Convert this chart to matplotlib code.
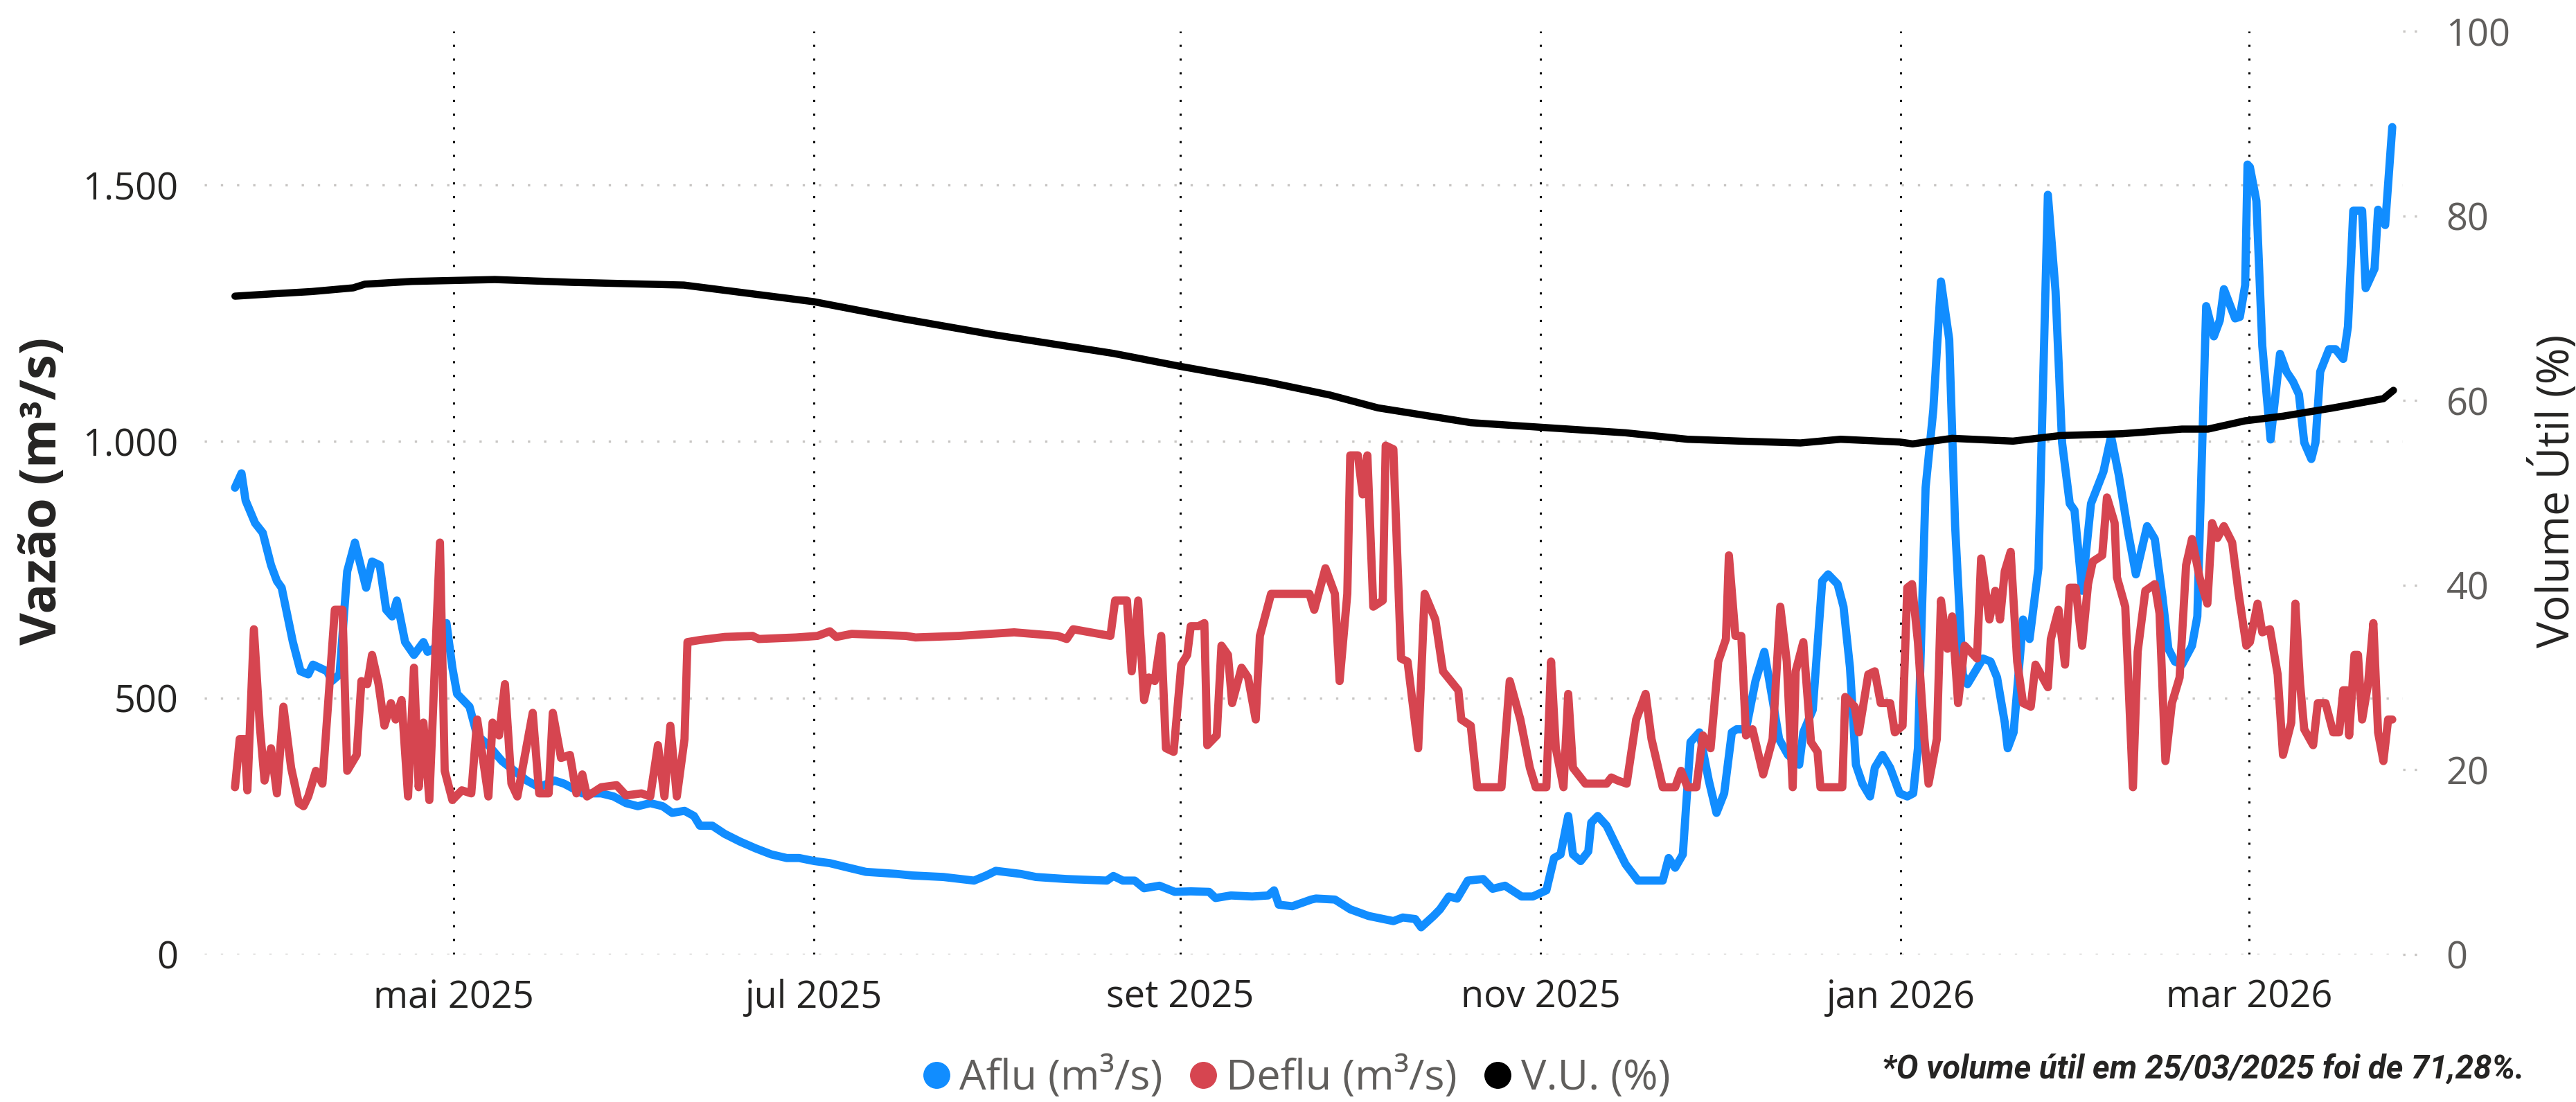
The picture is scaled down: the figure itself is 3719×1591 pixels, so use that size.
import matplotlib.pyplot as plt
import pandas as pd
from matplotlib.lines import Line2D

plt.rcParams["font.family"] = ["Open Sans", "DejaVu Sans"]

START = pd.Timestamp("2025-03-25")

# (days after 25/03/2025, value)
AFLU = [
    (0, 910), (1.1, 938), (1.8, 885), (3.4, 841), (4.7, 822), (6.1, 759), (7.1, 728), (7.9, 715),
    (9.8, 609), (11.1, 552), (12.4, 546), (13.2, 565), (14.5, 558), (15.6, 552), (16.4, 533),
    (17.7, 546), (19.0, 747), (20.3, 803), (22.2, 715), (23.2, 766), (24.5, 759), (25.6, 672),
    (26.6, 659), (27.4, 690), (28.8, 609), (30.3, 584), (31.9, 609), (32.6, 590), (33.7, 596),
    (35.8, 646), (36.8, 559), (37.6, 508), (39.7, 483), (41, 427), (42.9, 408), (45.2, 377),
    (47.3, 358), (49.4, 339), (51.5, 326), (54.1, 339), (55.7, 333), (58.8, 314), (62, 314),
    (64.1, 308), (66.2, 295), (68.2, 289), (70.3, 295), (72.4, 289), (74, 276), (76.1, 280),
    (77.7, 270), (78.7, 251), (80.8, 251), (82.9, 235), (85.5, 220), (88.1, 207), (90.8, 195),
    (93.4, 188), (95.5, 188), (98.1, 182), (100.7, 178), (103.9, 169), (106.8, 161), (112, 157),
    (114.6, 154), (119.9, 151), (125.1, 144), (127.2, 154), (128.8, 163), (133, 157), (135.6, 151),
    (140.8, 147), (147.6, 144), (148.7, 153), (150.3, 144), (152.3, 144), (153.9, 129), (156.5, 134),
    (159.1, 122), (161.8, 123), (164.9, 122), (166, 110), (168.6, 115), (172.2, 113), (174.9, 115),
    (175.9, 125), (176.7, 97), (179, 94), (182.2, 107), (183, 109), (186.2, 107), (188.8, 88),
    (191.9, 75), (196.1, 65), (197.7, 72), (199.8, 69), (200.8, 53), (202.9, 75), (204, 88),
    (205.5, 113), (206.9, 109), (208.7, 144), (211.3, 147), (212.9, 128), (215, 134), (217.8, 113),
    (219.7, 113), (222, 125), (223.3, 188), (224.4, 195), (225.7, 270), (226.5, 195), (227.8, 182),
    (229.1, 201), (229.6, 257), (230.7, 270), (232.2, 251), (233.8, 213), (235.4, 176), (237.5, 144),
    (239.6, 144), (241.7, 144), (242.7, 188), (243.8, 169), (245.1, 195), (246.4, 414), (247.9, 433),
    (249.5, 339), (250.8, 276), (252.1, 314), (253.4, 433), (254.2, 439), (255.8, 439), (257.4, 533),
    (258.9, 590), (260.3, 496), (261.4, 420), (262.9, 389), (264.8, 370), (265.5, 433), (267.1, 477),
    (268.7, 728), (269.7, 741), (271.3, 722), (272.3, 678), (273.4, 559), (274.4, 370), (275.5, 333),
    (276.8, 308), (277.6, 364), (278.9, 389), (280.2, 364), (281.8, 314), (283.1, 308), (284.1, 314),
    (284.9, 402), (286.2, 910), (287.5, 1061), (288.8, 1312), (290.2, 1199), (291.2, 835),
    (292.5, 546), (293.3, 527), (295.9, 577), (297.2, 571), (298.3, 540), (299.6, 452), (300.1, 402),
    (301.1, 433), (302.7, 653), (303.8, 615), (305.3, 753), (306.9, 1481), (308.2, 1293),
    (309.3, 998), (310.6, 879), (311.4, 866), (312.7, 709), (314.2, 879), (316.3, 941), (317.6, 1010),
    (318.9, 935), (320.5, 822), (321.8, 741), (323.7, 835), (325, 810), (326.3, 697), (327.3, 596),
    (328.4, 571), (329.6, 565), (331.3, 602), (332.2, 659), (333.7, 1264), (335, 1205), (336, 1236),
    (336.7, 1297), (338.6, 1240), (339.4, 1243), (340.3, 1305), (340.7, 1540), (341.1, 1535),
    (342.2, 1469), (343.2, 1186), (344.6, 1004), (346.2, 1171), (347.3, 1136), (348.4, 1117),
    (349.4, 1092), (350.3, 998), (351.5, 966), (352.2, 998), (353, 1136), (354.5, 1180),
    (355.6, 1180), (356.9, 1161), (357.7, 1224), (358.6, 1450), (360.1, 1450), (360.7, 1299),
    (362.2, 1337), (362.8, 1452), (364, 1422), (365.2, 1613),
]

DEFLU = [
    (0, 326), (0.8, 420), (1.6, 420), (2.1, 320), (3.2, 634), (4.2, 446), (5, 339), (6.1, 402),
    (7.1, 314), (8.2, 483), (9.5, 364), (10.8, 295), (11.6, 289), (12.4, 308), (13.7, 358),
    (14.8, 333), (16.9, 672), (18.2, 672), (19, 358), (20.6, 389), (21.4, 533), (22.4, 527),
    (23.2, 584), (24.3, 527), (25.3, 446), (26.4, 490), (27.2, 458), (28.2, 496), (29.3, 308),
    (30.3, 559), (31.1, 326), (31.9, 452), (32.9, 301), (34.7, 803), (35.5, 358), (36.8, 301),
    (38.4, 320), (40, 314), (41, 458), (42.9, 308), (43.6, 452), (44.7, 427), (45.7, 527),
    (46.8, 333), (47.8, 308), (50.4, 471), (51.5, 314), (53.1, 314), (53.8, 471), (55.2, 383),
    (56.7, 389), (57.8, 314), (58.8, 351), (59.6, 308), (62, 326), (64.6, 330), (66.2, 310),
    (68.8, 314), (70.3, 308), (71.6, 408), (72.7, 308), (73.7, 446), (74.8, 308), (76.1, 420),
    (76.6, 609), (78.7, 613), (82.9, 619), (87.6, 621), (88.7, 615), (95, 618), (98.6, 621),
    (100.7, 630), (101.8, 619), (104.4, 625), (113.6, 621), (115.2, 618), (122.5, 621),
    (131.9, 628), (139.3, 621), (140.8, 615), (141.9, 634), (148.2, 621), (149, 690), (151, 690),
    (151.8, 552), (152.9, 690), (153.9, 496), (154.7, 540), (155.7, 533), (156.8, 621), (157.6, 402),
    (158.9, 395), (160.2, 565), (161.2, 584), (161.8, 640), (163.1, 640), (164.1, 646), (164.6, 408),
    (166.2, 427), (167, 602), (168.1, 584), (168.8, 490), (170.4, 559), (171.5, 540), (172.8, 458),
    (173.5, 621), (175.4, 703), (181.9, 703), (182.7, 672), (184.6, 753), (186.2, 703), (187, 533),
    (188.3, 703), (188.8, 973), (190.1, 973), (190.9, 897), (191.7, 973), (192.7, 678), (194.3, 690),
    (194.8, 992), (196.1, 985), (197.4, 577), (198.5, 571), (200.3, 402), (201.4, 703), (203.2, 653),
    (204.5, 552), (207.1, 515), (207.6, 458), (209.2, 446), (210.3, 326), (214.4, 326), (215.8, 533),
    (217.6, 458), (219.2, 364), (220.2, 326), (222, 326), (222.8, 571), (223.6, 402), (224.9, 326),
    (225.7, 508), (226.5, 364), (228.6, 333), (232.2, 333), (233, 345), (234.1, 339), (235.6, 333),
    (237.2, 458), (238.8, 508), (239.8, 420), (241.7, 326), (243.8, 326), (244.8, 358), (245.9, 326),
    (247.4, 326), (248.5, 427), (249.8, 402), (251.1, 571), (252.4, 615), (252.9, 778), (254, 621),
    (255, 621), (255.8, 427), (256.9, 439), (258.7, 351), (260.3, 420), (261.6, 678), (262.7, 571),
    (263.7, 326), (264.2, 552), (265.5, 609), (266.8, 414), (267.9, 395), (268.4, 326), (272.1, 326),
    (272.6, 502), (274.2, 483), (274.9, 433), (276.5, 546), (277.6, 552), (278.6, 490), (280.2, 490),
    (281, 433), (282.3, 446), (283.1, 715), (283.9, 722), (284.9, 609), (286, 420), (286.7, 333),
    (288.1, 420), (288.8, 690), (289.9, 596), (290.7, 659), (291.7, 490), (292.8, 602), (294.9, 577),
    (295.6, 772), (297, 653), (298, 709), (298.8, 653), (299.6, 747), (300.6, 785), (301.7, 571),
    (302.7, 490), (304, 483), (304.8, 565), (306.9, 521), (307.4, 615), (308.7, 672), (309.8, 565),
    (310.6, 715), (311.6, 715), (312.7, 602), (313.7, 722), (314.5, 766), (316.1, 778), (316.9, 891),
    (318.2, 841), (318.6, 735), (320, 678), (321.3, 326), (322.1, 590), (323.4, 709), (325, 722),
    (325.8, 665), (326.8, 377), (327.9, 490), (329.2, 540), (330.3, 759), (331.3, 810), (332.6, 734),
    (333.9, 684), (334.7, 841), (335.6, 812), (336.7, 835), (338.1, 803), (339.2, 703), (340.5, 602),
    (341.1, 609), (342.4, 684), (343.2, 628), (344.5, 634), (345.8, 546), (346.7, 389), (348.1, 452),
    (348.8, 684), (349.6, 527), (350.3, 439), (351.8, 408), (352.6, 490), (353.9, 490), (355.2, 433),
    (356.2, 433), (356.9, 515), (357.5, 515), (357.9, 427), (358.8, 584), (359.4, 584), (360.1, 458),
    (361.1, 527), (362, 646), (362.8, 433), (363.7, 377), (364.5, 458), (365.2, 458),
]

VOLUME = [
    (0, 71.3), (5, 71.5), (13, 71.8), (20, 72.2), (22, 72.6), (30, 72.9), (44, 73.1), (57, 72.8),
    (76, 72.5), (98, 70.7), (112.6, 68.9), (127.7, 67.2), (148.7, 65.1), (160, 63.7), (174.8, 62.0),
    (185.3, 60.6), (193.5, 59.2), (209.2, 57.6), (221, 57.1), (235.4, 56.5), (245.9, 55.8),
    (254.8, 55.6), (265, 55.4), (271.8, 55.8), (281.8, 55.5), (284, 55.3), (290.7, 55.9),
    (301, 55.6), (309, 56.2), (319.5, 56.4), (329.6, 56.9), (334, 56.9), (340.3, 57.8),
    (346.7, 58.3), (355.2, 59.2), (363.7, 60.2), (365.4, 61.1),
]

TICK_DATES = ["2025-05-01", "2025-07-01", "2025-09-01", "2025-11-01", "2026-01-01", "2026-03-01"]
TICK_LABELS = ["mai 2025", "jul 2025", "set 2025", "nov 2025", "jan 2026", "mar 2026"]
FLOW_TICKS = [0, 500, 1000, 1500]
FLOW_TICK_LABELS = ["0", "500", "1.000", "1.500"]
VOLUME_TICKS = [0, 20, 40, 60, 80, 100]
SERIES_LABELS = ["Aflu (m³/s)", "Deflu (m³/s)", "V.U. (%)"]
NOTE = "*O volume útil em 25/03/2025 foi de 71,28%."

BLUE = "#118DFF"
RED = "#D64550"
BLACK = "#000000"
TEXT = "#252423"
GREY = "#605E5C"
GRID = "#C8C6C4"


def to_series(pairs):
    days, values = zip(*pairs)
    return START + pd.to_timedelta(list(days), unit="D"), list(values)


fig = plt.figure(figsize=(37.19, 15.91), dpi=100)
ax = fig.add_axes([0.0793, 0.1339, 0.8535, 0.8378])
ax2 = ax.twinx()

line_kw = dict(solid_joinstyle="round", solid_capstyle="round")
x, y = to_series(AFLU)
ax.plot(x, y, color=BLUE, lw=8.5, zorder=3, **line_kw)
x, y = to_series(DEFLU)
ax.plot(x, y, color=RED, lw=8.5, zorder=4, **line_kw)
x, y = to_series(VOLUME)
ax2.plot(x, y, color=BLACK, lw=7.5, **line_kw)

ax.set_xlim(START - pd.Timedelta(days=5.2), START + pd.Timedelta(days=367))
ax.set_ylim(0, 1800)
ax2.set_ylim(0, 100)

ax.set_xticks(pd.to_datetime(TICK_DATES))
ax.set_xticklabels(TICK_LABELS)
ax.set_yticks(FLOW_TICKS)
ax.set_yticklabels(FLOW_TICK_LABELS)
ax2.set_yticks(VOLUME_TICKS)

ax.xaxis.grid(True, color="black", lw=2.2, ls=(0, (1, 5.5)))
ax.yaxis.grid(True, color=GRID, lw=2.4, ls=(0, (1, 6)))
ax.set_axisbelow(True)
for v in VOLUME_TICKS:
    ax2.axhline(v, xmin=1.0, xmax=1.007, color=GRID, lw=2.4, ls=(0, (1, 4)), clip_on=False)

for a in (ax, ax2):
    for spine in a.spines.values():
        spine.set_visible(False)
ax.tick_params(axis="both", length=0, labelsize=39, labelcolor=TEXT)
ax.tick_params(axis="y", pad=27)
ax.tick_params(axis="x", pad=25)
ax2.tick_params(axis="y", length=0, pad=45, labelsize=39, labelcolor=GREY)

fig.text(0.0167, 0.5544, "Vazão (m³/s)", rotation=90, ha="center", va="center",
         fontsize=52, fontweight="bold", color=TEXT)
fig.text(0.9917, 0.5547, "Volume Útil (%)", rotation=90, ha="center", va="center",
         fontsize=46, color=TEXT)

handles = [Line2D([], [], ls="", marker="o", markersize=27, color=c) for c in (BLUE, RED, BLACK)]
fig.legend(handles, SERIES_LABELS, loc="center", bbox_to_anchor=(0.503, 0.022), ncol=3,
           frameon=False, fontsize=44, labelcolor=GREY, handlelength=0.7, handletextpad=0.2,
           columnspacing=0.6, borderpad=0, borderaxespad=0)

fig.text(0.980, 0.030, NOTE, ha="right", va="center", fontsize=34, fontweight="bold",
         style="italic", color=TEXT, family=["Roboto", "DejaVu Sans"])

fig.savefig("out.png", dpi=100)
